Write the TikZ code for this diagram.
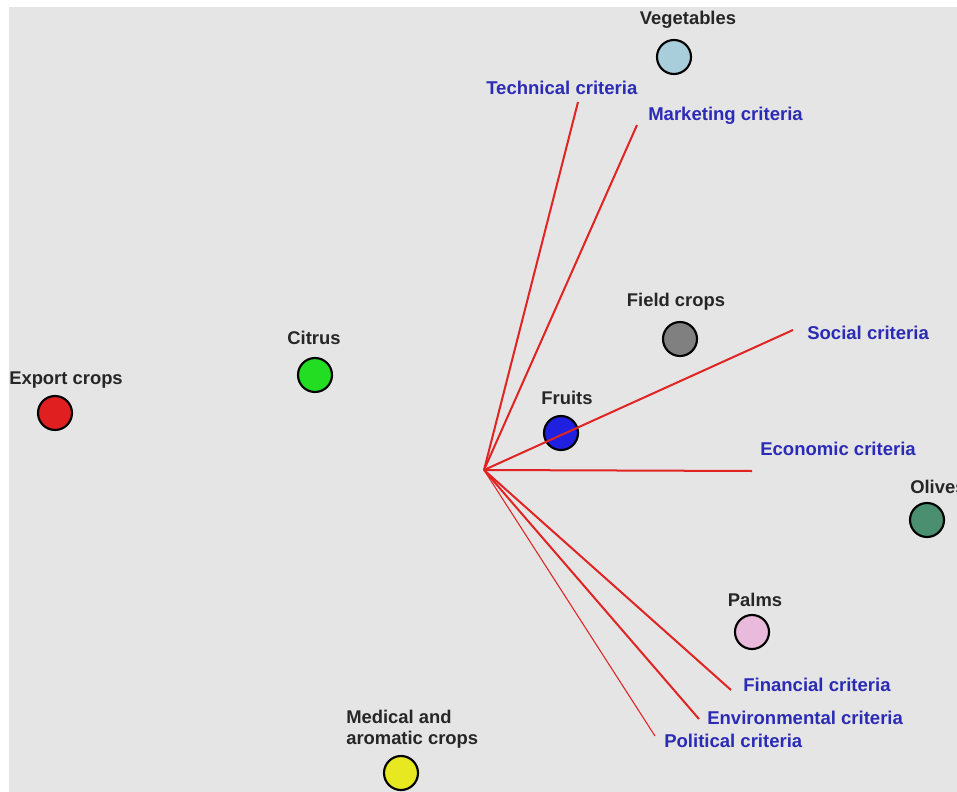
\documentclass[tikz,border=0pt]{standalone}
\usepackage{fontspec}
\setmainfont{Liberation Sans}
\begin{document}
\begin{tikzpicture}[x=0.75pt,y=-0.75pt,
  crop/.style={circle,draw=black,line width=1.6pt,minimum size=25.5pt,inner sep=0pt},
  croplabel/.style={font=\bfseries\fontsize{13.8}{15.75}\selectfont,text=black!85,inner sep=0pt},
  critlabel/.style={font=\bfseries\fontsize{13.9}{15.75}\selectfont,text=critblue,inner sep=0pt,anchor=west},
  vec/.style={draw=vecred,line width=1.5pt},
  thinvec/.style={draw=vecred,line width=0.8pt}]
\definecolor{critblue}{HTML}{2B2BB5}
\definecolor{vecred}{HTML}{E02424}
\definecolor{panel}{HTML}{E5E5E5}
% canvas
\useasboundingbox (0,0) rectangle (957,792);
\fill[white] (0,0) rectangle (957,792);
\fill[panel] (9,7) rectangle (957,792);

% crop groups
\node[crop,fill={rgb,255:red,168;green,206;blue,220}] (veg) at (674,57) {};
\node[croplabel] (vegl) at (688,20) {Vegetables};
\node[crop,fill={rgb,255:red,128;green,128;blue,128}] (field) at (680,339) {};
\node[croplabel] (fieldl) at (676,302) {Field crops};
\node[crop,fill={rgb,255:red,34;green,221;blue,34}] (citrus) at (315,375) {};
\node[croplabel] (citrusl) at (314,338) {Citrus};
\node[crop,fill={rgb,255:red,224;green,32;blue,32}] (export) at (55,413) {};
\node[croplabel] (exportl) at (66,380) {Export crops};
\node[crop,fill={rgb,255:red,32;green,32;blue,224}] (fruits) at (561,433) {};
\node[croplabel] (fruitsl) at (567,398) {Fruits};
\node[crop,fill={rgb,255:red,74;green,144;blue,112}] (olives) at (927,520) {};
\node[croplabel,anchor=west] (olivesl) at (910,487) {Olives};
\node[crop,fill={rgb,255:red,234;green,186;blue,220}] (palms) at (752,632) {};
\node[croplabel] (palmsl) at (755,600) {Palms};
\node[crop,fill={rgb,255:red,232;green,232;blue,32}] (medical) at (401,773) {};
\node[croplabel,anchor=north west,align=left] (medicall) at (346,710) {Medical and\\aromatic crops};

% criteria vectors
\coordinate (o) at (484,470);
\coordinate (tech) at (578,102);
\coordinate (mark) at (637,125);
\coordinate (soc) at (793,330);
\coordinate (eco) at (752,471);
\coordinate (fin) at (731,690);
\coordinate (env) at (699,719);
\coordinate (pol) at (655,736);

\draw[vec] (o) -- (tech);
\draw[vec] (o) -- (mark);
\draw[vec] (o) -- (soc);
\draw[vec] (o) -- (eco);
\draw[vec] (o) -- (fin);
\draw[vec] (o) -- (env);
\draw[thinvec] (o) -- (pol);

\node[critlabel] (techl) at (486,88) {Technical criteria};
\node[critlabel] (markl) at (648,116) {Marketing criteria};
\node[critlabel] (socl) at (807,333) {Social criteria};
\node[critlabel] (ecol) at (760,449) {Economic criteria};
\node[critlabel] (finl) at (743,685) {Financial criteria};
\node[critlabel] (envl) at (707,718) {Environmental criteria};
\node[critlabel] (poll) at (664,741) {Political criteria};
\end{tikzpicture}
\end{document}
